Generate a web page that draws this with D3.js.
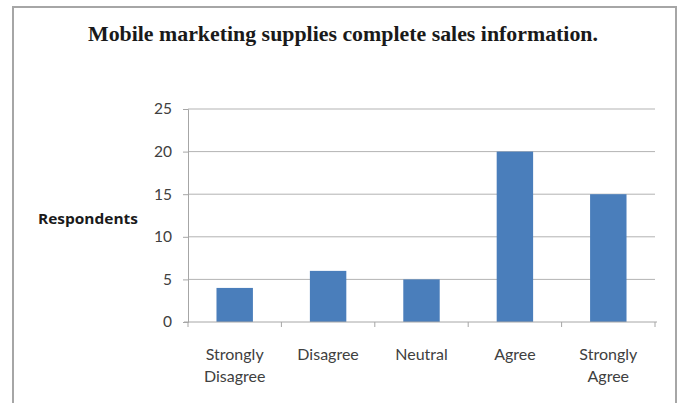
<!DOCTYPE html>
<html>
<head>
<meta charset="utf-8">
<script src="https://cdn.jsdelivr.net/npm/d3@7"></script>
<style>
  body { margin: 0; background: #fff; }
  svg { display: block; }
</style>
</head>
<body>
<div id="chart"></div>
<script>
// chart data
var categories = [["Strongly", "Disagree"], ["Disagree"], ["Neutral"], ["Agree"], ["Strongly", "Agree"]];
var values = [4, 6, 5, 20, 15];
var yTicks = [0, 5, 10, 15, 20, 25];

var W = 682, H = 403;
var svg = d3.select("#chart").append("svg")
    .attr("width", W)
    .attr("height", H);

// outer frame of the chart
svg.append("rect")
    .attr("x", 13).attr("y", 7)
    .attr("width", 663).attr("height", 420)
    .attr("fill", "#fff")
    .attr("stroke", "#a6a6a6")
    .attr("stroke-width", 2);

var plot = {left: 188, right: 655, top: 109, bottom: 322};
var labelFont = "Lato, 'Open Sans', sans-serif";

var x = d3.scaleBand()
    .domain(d3.range(values.length))
    .range([plot.left, plot.right])
    .paddingInner(0.61)
    .paddingOuter(0.305);

var y = d3.scaleLinear()
    .domain([0, 25])
    .range([plot.bottom, plot.top]);

// gridlines
svg.selectAll(".grid").data(yTicks.slice(1)).enter().append("line")
    .attr("class", "grid")
    .attr("x1", plot.left).attr("x2", plot.right)
    .attr("y1", function(d){return y(d);})
    .attr("y2", function(d){return y(d);})
    .attr("stroke", "#b3b3b3")
    .attr("stroke-width", 1);

// bars
svg.selectAll(".bar").data(values).enter().append("rect")
    .attr("class", "bar")
    .attr("x", function(d, i){return x(i);})
    .attr("y", function(d){return y(d);})
    .attr("width", x.bandwidth())
    .attr("height", function(d){return y(0) - y(d);})
    .attr("fill", "#4a7ebb");

// y axis
var yAxis = svg.append("g")
    .attr("transform", "translate(" + plot.left + ",0)")
    .call(d3.axisLeft(y).tickValues(yTicks).tickSize(5).tickPadding(11));
yAxis.selectAll("path, line").attr("stroke", "#a6a6a6");
yAxis.selectAll("text")
    .attr("font-family", labelFont)
    .attr("font-size", 15.5)
    .attr("fill", "#404040");

// x axis line and boundary ticks
var step = x.step();
var bounds = d3.range(values.length + 1).map(function(i){return plot.left + i * step;});
svg.append("line")
    .attr("x1", plot.left - 4).attr("x2", plot.right + 2)
    .attr("y1", plot.bottom).attr("y2", plot.bottom)
    .attr("stroke", "#a6a6a6");
svg.selectAll(".xtick").data(bounds).enter().append("line")
    .attr("class", "xtick")
    .attr("x1", function(d){return d;}).attr("x2", function(d){return d;})
    .attr("y1", plot.bottom).attr("y2", plot.bottom + 5)
    .attr("stroke", "#a6a6a6");

// category labels
var xl = svg.selectAll(".xlabel").data(categories).enter().append("text")
    .attr("class", "xlabel")
    .attr("text-anchor", "middle")
    .attr("font-family", labelFont)
    .attr("font-size", 16)
    .attr("fill", "#404040");
xl.each(function(d, i){
    var t = d3.select(this);
    d.forEach(function(line, j){
        t.append("tspan")
            .attr("x", x(i) + x.bandwidth() / 2)
            .attr("y", 360 + j * 22)
            .text(line);
    });
});

// y axis title
svg.append("text")
    .attr("x", 38).attr("y", 224)
    .attr("font-family", "'Open Sans', Lato, sans-serif")
    .attr("font-weight", "bold")
    .attr("font-size", 14)
    .attr("textLength", 100)
    .attr("lengthAdjust", "spacingAndGlyphs")
    .attr("fill", "#1a1a1a")
    .text("Respondents");

// chart title
svg.append("text")
    .attr("x", 343).attr("y", 41)
    .attr("text-anchor", "middle")
    .attr("font-family", "'Liberation Serif', 'DejaVu Serif', serif")
    .attr("font-weight", "bold")
    .attr("font-size", 21)
    .attr("textLength", 510)
    .attr("lengthAdjust", "spacingAndGlyphs")
    .attr("fill", "#1a1a1a")
    .text("Mobile marketing supplies complete sales information.");
</script>
</body>
</html>
